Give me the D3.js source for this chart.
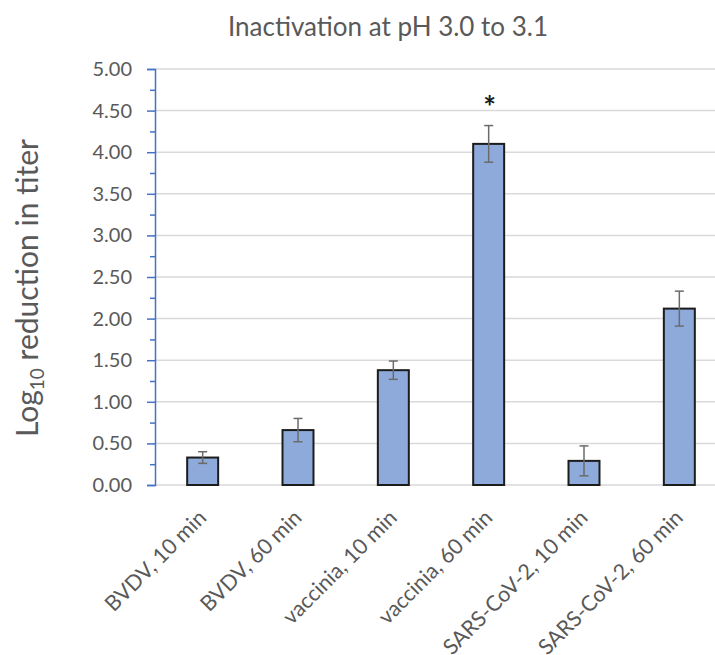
<!DOCTYPE html>
<html>
<head>
<meta charset="utf-8">
<script src="https://cdn.jsdelivr.net/npm/d3@7"></script>
<style>
  body { margin: 0; background: #fff; }
  svg { display: block; font-family: Lato, "Open Sans", sans-serif; }
</style>
</head>
<body>
<div id="chart"></div>
<script>
const width = 715;
const height = 655;

// data
const categories = ["BVDV, 10 min", "BVDV, 60 min", "vaccinia, 10 min",
  "vaccinia, 60 min", "SARS-CoV-2, 10 min", "SARS-CoV-2, 60 min"];
const values = [0.33, 0.66, 1.38, 4.10, 0.29, 2.12];
const errors = [0.07, 0.14, 0.11, 0.22, 0.18, 0.21];
const significant = [false, false, false, true, false, false];
const yTicks = [0, 0.5, 1, 1.5, 2, 2.5, 3, 3.5, 4, 4.5, 5];
const yMinorTicks = [0.25, 0.75, 1.25, 1.75, 2.25, 2.75, 3.25, 3.75, 4.25, 4.75];

const plotLeft = 155, plotTop = 69, plotBottom = 485, plotRight = 727;

var svg = d3.select("#chart").
append("svg").
attr("width", width).
attr("height", height);

var xScale = d3.scaleBand().
domain(categories).
range([plotLeft, plotRight]).
paddingInner(0.675).
paddingOuter(0.3375);

var yScale = d3.scaleLinear().
domain([0, 5]).
range([plotBottom, plotTop]);

// gridlines
svg.append("g").
selectAll("line").
data(yTicks).
enter().
append("line").
attr("x1", plotLeft).
attr("x2", width).
attr("y1", d => yScale(d)).
attr("y2", d => yScale(d)).
attr("stroke", "#d9d9d9").
attr("stroke-width", 1.5);

// bars
svg.append("g").
selectAll("rect").
data(values).
enter().
append("rect").
attr("x", (d, i) => xScale(categories[i])).
attr("y", d => yScale(d)).
attr("width", xScale.bandwidth()).
attr("height", d => yScale(0) - yScale(d)).
attr("fill", "#8eaadb").
attr("stroke", "#1c1c1c").
attr("stroke-width", 2);

// error bars
var err = svg.append("g").
attr("stroke", "#6b6b6b").
attr("stroke-width", 1.5);
values.forEach((v, i) => {
  const cx = xScale(categories[i]) + xScale.bandwidth() / 2;
  const lo = yScale(v - errors[i]), hi = yScale(v + errors[i]);
  err.append("line").attr("x1", cx).attr("x2", cx).attr("y1", lo).attr("y2", hi);
  err.append("line").attr("x1", cx - 4.5).attr("x2", cx + 4.5).attr("y1", lo).attr("y2", lo);
  err.append("line").attr("x1", cx - 4.5).attr("x2", cx + 4.5).attr("y1", hi).attr("y2", hi);
});

// asterisk for significance
svg.append("g").
selectAll("text").
data(values.map((v, i) => ({v: v, e: errors[i], c: categories[i], s: significant[i]})).filter(d => d.s)).
enter().
append("text").
attr("x", d => xScale(d.c) + xScale.bandwidth() / 2 + 1).
attr("y", d => yScale(d.v + d.e) - 8).
attr("text-anchor", "middle").
attr("font-size", 30).
attr("font-weight", "bold").
attr("fill", "#1a1a1a").
text("*");

// y axis with major and minor ticks
var yAxis = d3.axisLeft(yScale).
tickValues(yTicks).
tickFormat(d3.format(".2f")).
tickSize(8).
tickPadding(15);

var gy = svg.append("g").
attr("transform", "translate(" + plotLeft + ",0)").
call(yAxis);
gy.select(".domain").attr("stroke", "#4472c4").attr("stroke-width", 1.5);
gy.selectAll(".tick line").attr("stroke", "#4472c4").attr("stroke-width", 1.5);
gy.selectAll(".tick text").
attr("fill", "#595959").
attr("font-size", 20).
attr("font-family", "Lato, sans-serif");

var gyMinor = svg.append("g").
attr("transform", "translate(" + plotLeft + ",0)").
call(d3.axisLeft(yScale).tickValues(yMinorTicks).tickSize(5).tickFormat(""));
gyMinor.select(".domain").remove();
gyMinor.selectAll(".tick line").attr("stroke", "#4472c4").attr("stroke-width", 1.5);

// x axis labels (rotated)
var xAxis = d3.axisBottom(xScale).tickSize(0).tickPadding(0);
var gx = svg.append("g").
attr("transform", "translate(0," + plotBottom + ")").
call(xAxis);
gx.select(".domain").remove();
gx.selectAll(".tick text").
attr("fill", "#595959").
attr("font-size", 21.5).
attr("font-family", "Lato, sans-serif").
attr("text-anchor", "end").
attr("dy", 0).
attr("transform", "translate(5,34) rotate(-45)");

// title
svg.append("text").
attr("x", 388).
attr("y", 36).
attr("text-anchor", "middle").
attr("font-size", 26).
attr("fill", "#595959").
text("Inactivation at pH 3.0 to 3.1");

// y label with subscript
var ylab = svg.append("text").
attr("transform", "translate(38,288) rotate(-90)").
attr("text-anchor", "middle").
attr("font-size", 30).
attr("fill", "#595959");
ylab.append("tspan").text("Log");
ylab.append("tspan").attr("font-size", 19).attr("dy", 6).text("10");
ylab.append("tspan").attr("dy", -6).text(" reduction in titer");
</script>
</body>
</html>
